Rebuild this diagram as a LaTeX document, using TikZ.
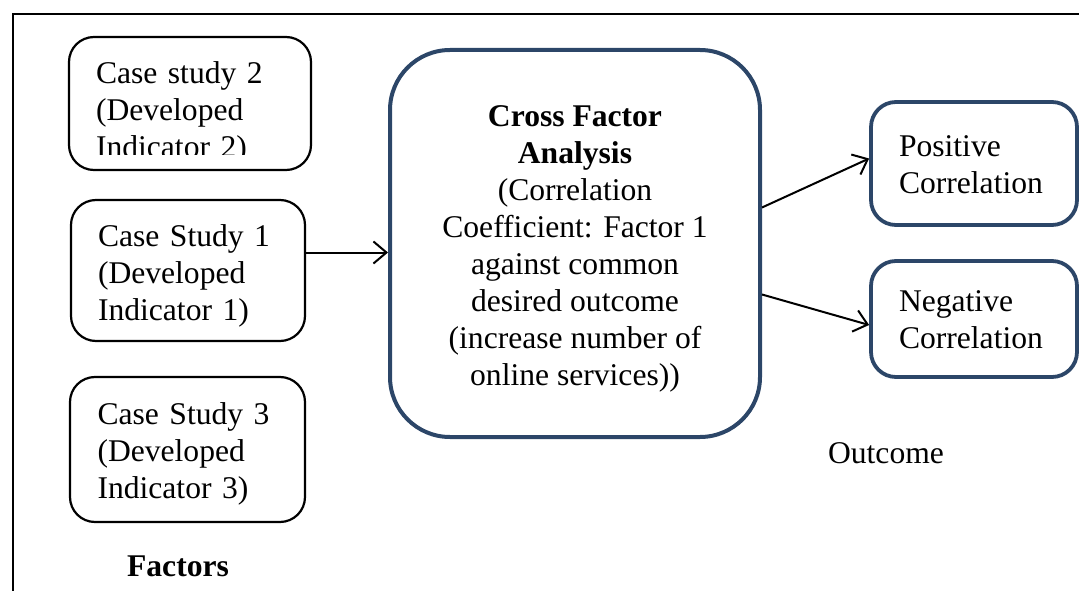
\documentclass[tikz,border=0pt]{standalone}
\usepackage{fontspec}
\setmainfont{Liberation Serif}
\usetikzlibrary{arrows.meta}
\definecolor{boxblue}{RGB}{44,70,104}
\begin{document}
\begin{tikzpicture}[x=1pt,y=-1pt,
 every node/.style={font=\fontsize{31.6}{37}\selectfont},
 casebox/.style={draw, line width=2.2pt, rounded corners=25pt, inner sep=0pt},
 casetext/.style={align=left, text width=#1, inner sep=0pt},
 outbox/.style={draw=boxblue, line width=3.8pt, rounded corners=25pt, inner sep=0pt, minimum width=206pt},
 arr/.style={-{Straight Barb[length=13pt,width=22pt]}, line width=2pt}]

 \useasboundingbox (0,0) rectangle (1079,591);
 % frame
 \draw[line width=2pt] (13,591) -- (13,14) -- (1079,14);

 % factors
 \node (cs2) at (190,103.5) [casebox, minimum width=242pt, minimum height=133pt] {};
 \begin{scope}
 \clip (69,37) rectangle (311,155);
 \node (cs2t) at (190,113) [casetext=188pt] {Case study 2\\(Developed\\Indicator 2)};
 \end{scope}
 \node (cs1) at (188,270.5) [casebox, minimum width=234pt, minimum height=141pt] {};
 \node (cs1t) at (188,275.5) [casetext=180pt] {Case Study 1\\(Developed\\Indicator 1)};
 \node (cs3) at (187.5,449.5) [casebox, minimum width=235pt, minimum height=145pt] {};
 \node (cs3t) at (187.5,453.5) [casetext=180pt] {Case Study 3\\(Developed\\Indicator 3)};
 \node (fac) at (178,566) {\textbf{Factors}};

 % analysis
 \node (cfa) at (575,243.5) [draw=boxblue, line width=4pt, rounded corners=60pt,
 minimum width=370pt, minimum height=387pt] {};
 \node (cfat) at (575,249) [align=center]
 {\textbf{Cross Factor}\\\textbf{Analysis}\\(Correlation\\Coefficient: Factor 1\\against common\\desired outcome\\(increase number of\\online services))};

 % outcome
 \node (pos) at (974,163.5) [outbox, minimum height=123pt] {};
 \node (post) at (974,164.5) [casetext=150pt] {Positive\\Correlation};
 \node (neg) at (974,319) [outbox, minimum height=116pt] {};
 \node (negt) at (974,320) [casetext=150pt] {Negative\\Correlation};
 \node (out) at (886,453) {Outcome};

 \draw[arr] ([yshift=18pt]cs1.east) -- ([yshift=18pt]cs1.east -| cfa.west);
 \draw[arr] ([yshift=36pt]cfa.east) -- ([yshift=5pt]pos.west);
 \draw[arr] ([yshift=-51pt]cfa.east) -- ([yshift=-6pt]neg.west);
\end{tikzpicture}
\end{document}
